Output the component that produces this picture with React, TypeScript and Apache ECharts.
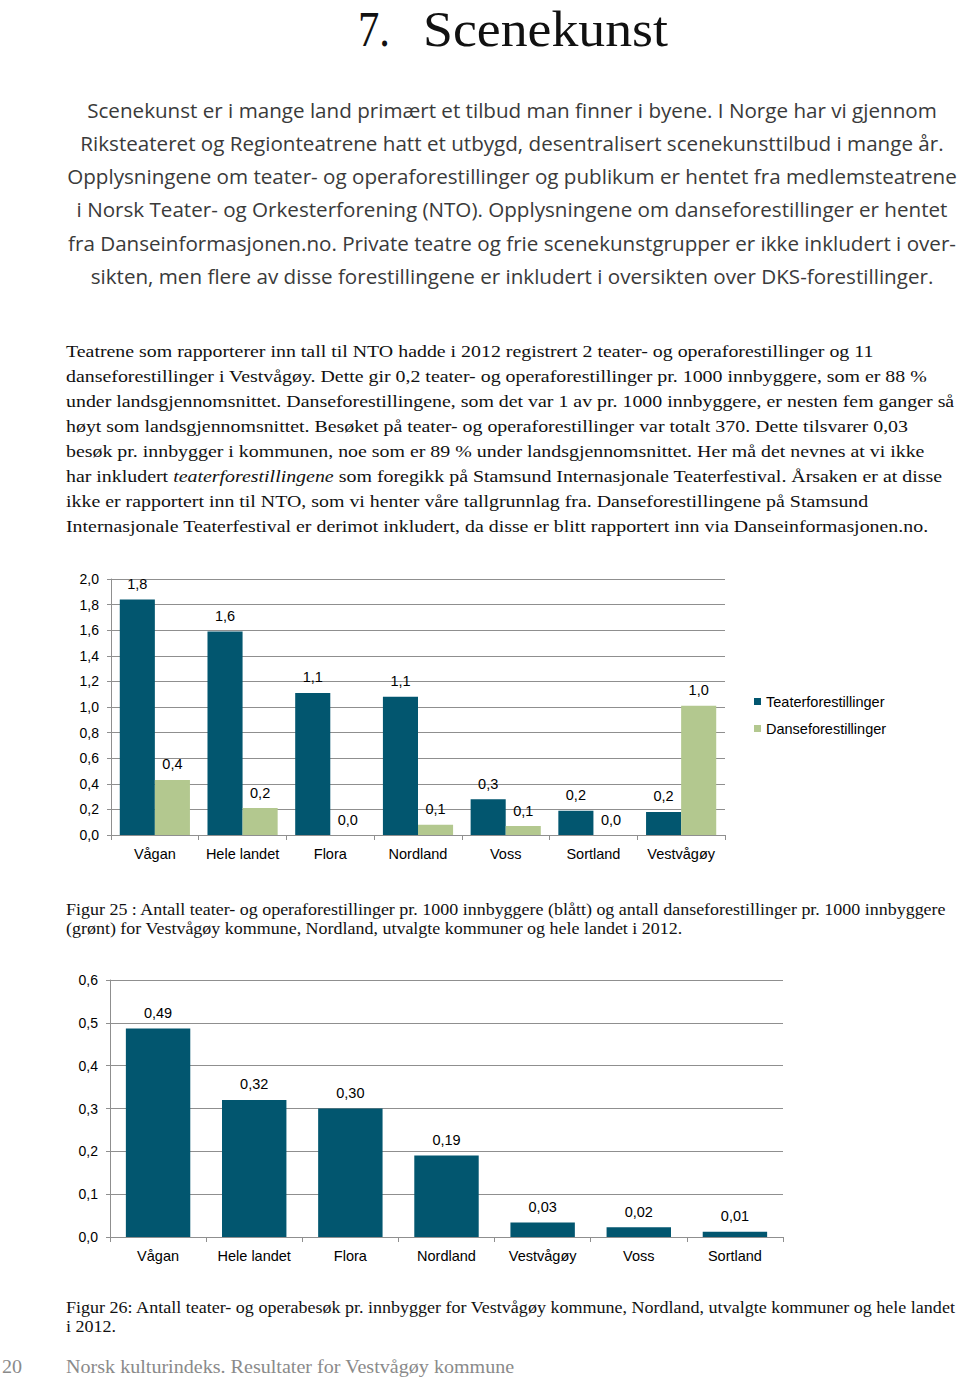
import React, { useEffect, useRef } from "react";
import * as echarts from "echarts";

// ---------- Text content ----------
const HEADING_NUM = "7.";
const HEADING_TITLE = "Scenekunst";

const INTRO_LINES = [
  "Scenekunst er i mange land primært et tilbud man finner i byene. I Norge har vi gjennom",
  "Riksteateret og Regionteatrene hatt et utbygd, desentralisert scenekunsttilbud i mange år.",
  "Opplysningene om teater- og operaforestillinger og publikum er hentet fra medlemsteatrene",
  "i Norsk Teater- og Orkesterforening (NTO). Opplysningene om danseforestillinger er hentet",
  "fra Danseinformasjonen.no. Private teatre og frie scenekunstgrupper er ikke inkludert i over-",
  "sikten, men flere av disse forestillingene er inkludert i oversikten over DKS-forestillinger.",
];

const BODY_LINES = [
  "Teatrene som rapporterer inn tall til NTO hadde i 2012 registrert 2 teater- og operaforestillinger og 11",
  "danseforestillinger i Vestvågøy. Dette gir 0,2 teater- og operaforestillinger pr. 1000 innbyggere, som er 88 %",
  "under landsgjennomsnittet. Danseforestillingene, som det var 1 av pr. 1000 innbyggere, er nesten fem ganger så",
  "høyt som landsgjennomsnittet. Besøket på teater- og operaforestillinger var totalt 370. Dette tilsvarer 0,03",
  "besøk pr. innbygger i kommunen, noe som er 89 % under landsgjennomsnittet. Her må det nevnes at vi ikke",
  "har inkludert {i|teaterforestillingene} som foregikk på Stamsund Internasjonale Teaterfestival. Årsaken er at disse",
  "ikke er rapportert inn til NTO, som vi henter våre tallgrunnlag fra. Danseforestillingene på Stamsund",
  "Internasjonale Teaterfestival er derimot inkludert, da disse er blitt rapportert inn via Danseinformasjonen.no.",
];

const FIG25_CAPTION = [
  "Figur 25 : Antall teater- og operaforestillinger pr. 1000 innbyggere (blått) og antall danseforestillinger pr. 1000 innbyggere",
  "(grønt) for Vestvågøy kommune, Nordland, utvalgte kommuner og hele landet i 2012.",
];

const FIG26_CAPTION = [
  "Figur 26: Antall teater- og operabesøk pr. innbygger for Vestvågøy kommune, Nordland, utvalgte kommuner og hele landet",
  "i 2012.",
];

const PAGE_NUMBER = "20";
const FOOTER = "Norsk kulturindeks. Resultater for Vestvågøy kommune";

// ---------- Chart data ----------
const CAT1 = ["Vågan", "Hele landet", "Flora", "Nordland", "Voss", "Sortland", "Vestvågøy"];
const SERIES1_NAME = "Teaterforestillinger";
const SERIES2_NAME = "Danseforestillinger";
const TEATER = [1.84, 1.59, 1.11, 1.08, 0.28, 0.19, 0.18];
const DANSE = [0.43, 0.21, 0, 0.08, 0.07, 0, 1.01];

const CAT2 = ["Vågan", "Hele landet", "Flora", "Nordland", "Vestvågøy", "Voss", "Sortland"];
const BESOK = [0.487, 0.32, 0.3, 0.19, 0.034, 0.023, 0.012];

// ---------- Styles ----------
const SANS = '"Liberation Sans", Arial, sans-serif';
const SERIF = '"Liberation Serif", "Times New Roman", serif';
const HUMANIST = '"Open Sans", "Noto Sans", sans-serif';
const BLUE = "#02566F";
const GREEN = "#B3C88F";
const GRID_COLOR = "#8f8f8f";

function measure(text: string, size: number, family: string, style = "normal"): number {
  const canvas = document.createElement("canvas");
  const ctx = canvas.getContext("2d");
  if (!ctx) return text.length * size * 0.5;
  ctx.font = `${style} ${size}px ${family}`;
  return ctx.measureText(text.replace(/\{i\|([^}]*)\}/g, "$1")).width;
}

function textEl(
  text: string,
  x: number,
  y: number,
  size: number,
  family: string,
  color: string,
  scaleX: number,
  align: string = "left",
  rich?: any,
  lineHeight?: number
) {
  const style: any = {
    text,
    fontSize: size,
    fontFamily: family,
    fill: color,
    align,
    textAlign: align,
    verticalAlign: "middle",
    textVerticalAlign: "middle",
  };
  if (lineHeight) style.lineHeight = lineHeight;
  if (rich) style.rich = rich;
  return { type: "text", x, y, scaleX, scaleY: 1, silent: true, style };
}

const fmt1 = (v: number) => v.toFixed(1).replace(".", ",");
const fmt2 = (v: number) => v.toFixed(2).replace(".", ",");

export default function App() {
  const ref = useRef<HTMLDivElement>(null);

  useEffect(() => {
    if (!ref.current) return;
    const chart = echarts.init(ref.current, null, { renderer: "svg", width: 960, height: 1380 });

    const graphics: any[] = [];

    // Heading
    const hSize = 50;
    const numScale = 32 / measure(HEADING_NUM, hSize, SERIF);
    const titleScale = 245 / measure(HEADING_TITLE, hSize, SERIF);
    graphics.push(textEl(HEADING_NUM, 358, 29, hSize, SERIF, "#111", numScale, "left", undefined, 50));
    graphics.push(textEl(HEADING_TITLE, 423, 29, hSize, SERIF, "#111", titleScale, "left", undefined, 50));

    // Intro paragraph (centered)
    const introSize = 20;
    const introScale = 890 / measure(INTRO_LINES[2], introSize, HUMANIST);
    INTRO_LINES.forEach((line, i) => {
      graphics.push(textEl(line, 512, 110 + 33.2 * i, introSize, HUMANIST, "#3a3a3a", introScale, "center"));
    });

    // Body paragraph
    const bodySize = 17.5;
    const bodyScale = 889 / measure(BODY_LINES[2], bodySize, SERIF);
    const rich = { i: { fontStyle: "italic", fontSize: bodySize, fontFamily: SERIF, fill: "#111" } };
    BODY_LINES.forEach((line, i) => {
      graphics.push(textEl(line, 66, 351 + 25 * i, bodySize, SERIF, "#111", bodyScale, "left", rich));
    });

    // Captions
    const capSize = 17;
    const cap25Scale = 881 / measure(FIG25_CAPTION[0], capSize, SERIF);
    FIG25_CAPTION.forEach((line, i) => {
      graphics.push(textEl(line, 66, 909 + 19.5 * i, capSize, SERIF, "#111", cap25Scale));
    });
    const cap26Scale = 891 / measure(FIG26_CAPTION[0], capSize, SERIF);
    FIG26_CAPTION.forEach((line, i) => {
      graphics.push(textEl(line, 66, 1307 + 19.5 * i, capSize, SERIF, "#111", cap26Scale));
    });

    // Footer
    const footSize = 19;
    const footScale = 449 / measure(FOOTER, footSize, SERIF);
    graphics.push(textEl(PAGE_NUMBER, 2, 1367, footSize, SERIF, "#8a8a8a", footScale));
    graphics.push(textEl(FOOTER, 66, 1367, footSize, SERIF, "#8a8a8a", footScale));

    const axisLabelStyle = { color: "#000", fontFamily: SANS, fontSize: 14 };
    const dataLabel = (f: (v: number) => string) => ({
      show: true,
      position: "top",
      distance: 8,
      color: "#000",
      fontFamily: SANS,
      fontSize: 14.5,
      formatter: (p: any) => f(p.value),
    });

    chart.setOption({
      animation: false,
      backgroundColor: "#fff",
      textStyle: { fontFamily: SANS },
      grid: [
        { left: 111, top: 579, width: 614, height: 256, containLabel: false, outerBoundsMode: "none" },
        { left: 110, top: 980, width: 673, height: 257, containLabel: false, outerBoundsMode: "none" },
      ],
      legend: {
        orient: "vertical",
        left: 754,
        top: 694,
        padding: 0,
        itemWidth: 7,
        itemHeight: 7,
        itemGap: 12,
        icon: "rect",
        data: [SERIES1_NAME, SERIES2_NAME],
        textStyle: { color: "#000", fontFamily: SANS, fontSize: 14.5 },
      },
      xAxis: [
        {
          type: "category",
          gridIndex: 0,
          data: CAT1,
          axisLine: { lineStyle: { color: GRID_COLOR, width: 1 } },
          axisTick: { show: true, length: 5, lineStyle: { color: GRID_COLOR } },
          axisLabel: { ...axisLabelStyle, fontSize: 14.5, margin: 11, interval: 0 },
        },
        {
          type: "category",
          gridIndex: 1,
          data: CAT2,
          axisLine: { lineStyle: { color: GRID_COLOR, width: 1 } },
          axisTick: { show: true, length: 5, lineStyle: { color: GRID_COLOR } },
          axisLabel: { ...axisLabelStyle, fontSize: 14.5, margin: 11, interval: 0 },
        },
      ],
      yAxis: [
        {
          type: "value",
          gridIndex: 0,
          min: 0,
          max: 2,
          interval: 0.2,
          axisLine: { show: true, lineStyle: { color: GRID_COLOR, width: 1 } },
          axisTick: { show: true, length: 4, lineStyle: { color: GRID_COLOR } },
          splitLine: { show: true, lineStyle: { color: GRID_COLOR, width: 1.2 } },
          axisLabel: { ...axisLabelStyle, margin: 12, formatter: (v: number) => fmt1(v) },
        },
        {
          type: "value",
          gridIndex: 1,
          min: 0,
          max: 0.6,
          interval: 0.1,
          axisLine: { show: true, lineStyle: { color: GRID_COLOR, width: 1 } },
          axisTick: { show: true, length: 4, lineStyle: { color: GRID_COLOR } },
          splitLine: { show: true, lineStyle: { color: GRID_COLOR, width: 1.2 } },
          axisLabel: { ...axisLabelStyle, margin: 12, formatter: (v: number) => fmt1(v) },
        },
      ],
      series: [
        {
          name: SERIES1_NAME,
          type: "bar",
          xAxisIndex: 0,
          yAxisIndex: 0,
          data: TEATER,
          barGap: "0%",
          barCategoryGap: "20%",
          itemStyle: { color: BLUE },
          label: dataLabel(fmt1),
        },
        {
          name: SERIES2_NAME,
          type: "bar",
          xAxisIndex: 0,
          yAxisIndex: 0,
          data: DANSE,
          barGap: "0%",
          barCategoryGap: "20%",
          itemStyle: { color: GREEN },
          label: dataLabel(fmt1),
        },
        {
          name: "Besøk",
          type: "bar",
          xAxisIndex: 1,
          yAxisIndex: 1,
          data: BESOK,
          barCategoryGap: "33%",
          itemStyle: { color: BLUE },
          label: dataLabel(fmt2),
        },
      ],
      graphic: { elements: graphics },
    });

    return () => {
      chart.dispose();
    };
  }, []);

  return (
    <div
      ref={ref}
      style={{ position: "absolute", left: 0, top: 0, width: 960, height: 1380, background: "#fff" }}
    />
  );
}
